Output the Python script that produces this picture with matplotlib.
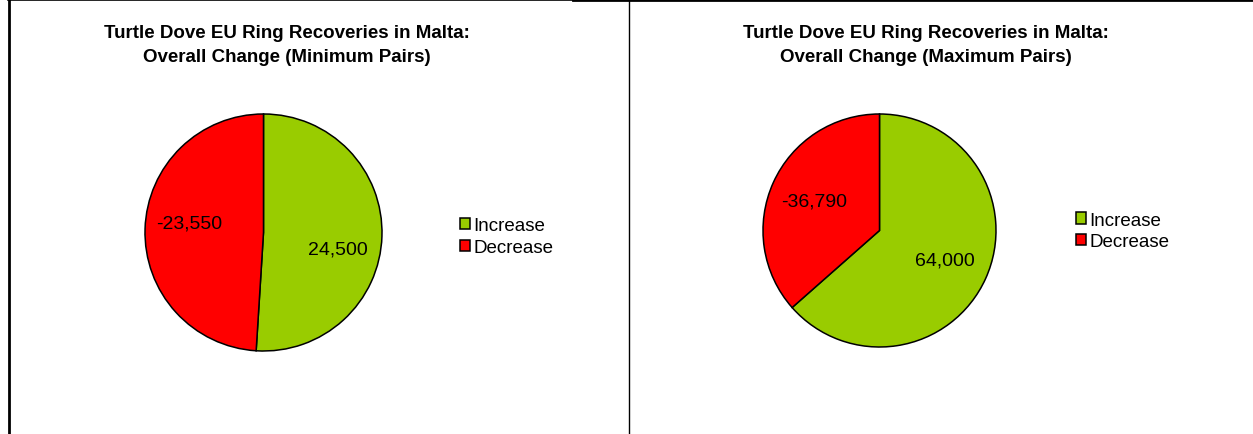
import matplotlib
matplotlib.use("Agg")
import matplotlib.pyplot as plt
from matplotlib.lines import Line2D

plt.rcParams["font.family"] = ["Liberation Sans", "DejaVu Sans"]

# data
categories = ["Increase", "Decrease"]
min_values = [24500, -23550]
max_values = [64000, -36790]
titles = [
    "Turtle Dove EU Ring Recoveries in Malta:\nOverall Change (Minimum Pairs)",
    "Turtle Dove EU Ring Recoveries in Malta:\nOverall Change (Maximum Pairs)",
]
colors = ["#99CC00", "#FF0000"]

W, H = 1253, 435
fig = plt.figure(figsize=(W / 100, H / 100), dpi=100)


def pie_axes(cx, cy, r, lim=1.1):
    # cx, cy, r in pixels, cy measured from the top
    size = 2 * r * lim
    ax = fig.add_axes([(cx - size / 2) / W, (H - cy - size / 2) / H, size / W, size / H])
    return ax


def draw_pie(ax, values, label_dist):
    sizes = [abs(v) for v in values]
    wedges, texts = ax.pie(
        sizes,
        colors=colors,
        startangle=90,
        counterclock=False,
        labels=[f"{v:,}" for v in values],
        labeldistance=label_dist,
        wedgeprops=dict(edgecolor="black", linewidth=1.1),
        textprops=dict(fontsize=14, color="black"),
    )
    for t in texts:
        t.set_ha("center")
        t.set_va("center")
    ax.set_xlim(-1.1, 1.1)
    ax.set_ylim(-1.1, 1.1)
    ax.set_aspect("equal")
    ax.axis("off")
    return wedges, texts


ax1 = pie_axes(263.5, 233.5, 118.5)
w1, t1 = draw_pie(ax1, min_values, 0.63)
# Excel's "best fit" nudges these two labels a little
t1[0].set_y(t1[0].get_position()[1] - 0.12)
t1[1].set_y(t1[1].get_position()[1] + 0.06)
ax2 = pie_axes(879.5, 231.5, 116.5)
w2, t2 = draw_pie(ax2, max_values, 0.62)

legend_kw = dict(
    frameon=False, fontsize=13.5, handlelength=0.55, handleheight=0.55,
    handletextpad=0.15, labelspacing=0.25, borderpad=0, borderaxespad=0,
)
fig.legend(w1, categories, loc="center left",
           bbox_to_anchor=(460 / W, 1 - 237.5 / H), **legend_kw)
fig.legend(w2, categories, loc="center left",
           bbox_to_anchor=(1076 / W, 1 - 232 / H), **legend_kw)

fig.text(287 / W, 1 - 45.5 / H, titles[0], ha="center", va="center",
         fontsize=13.5, fontweight="bold", linespacing=1.55)
fig.text(926 / W, 1 - 45.5 / H, titles[1], ha="center", va="center",
         fontsize=13.5, fontweight="bold", linespacing=1.55)

# panel borders
borders = [
    ((8.5, 8.5), (1, H), 2.0),
    ((8, 573), (0.8, 0.8), 1.2),
    ((573, W), (1, 1), 2.0),
    ((629, 629), (2, H), 1.0),
]
for xs, ys, lw in borders:
    fig.add_artist(Line2D([x / W for x in xs], [1 - y / H for y in ys],
                          transform=fig.transFigure, color="black", linewidth=lw))

fig.savefig("out.png", dpi=100, facecolor="white")
